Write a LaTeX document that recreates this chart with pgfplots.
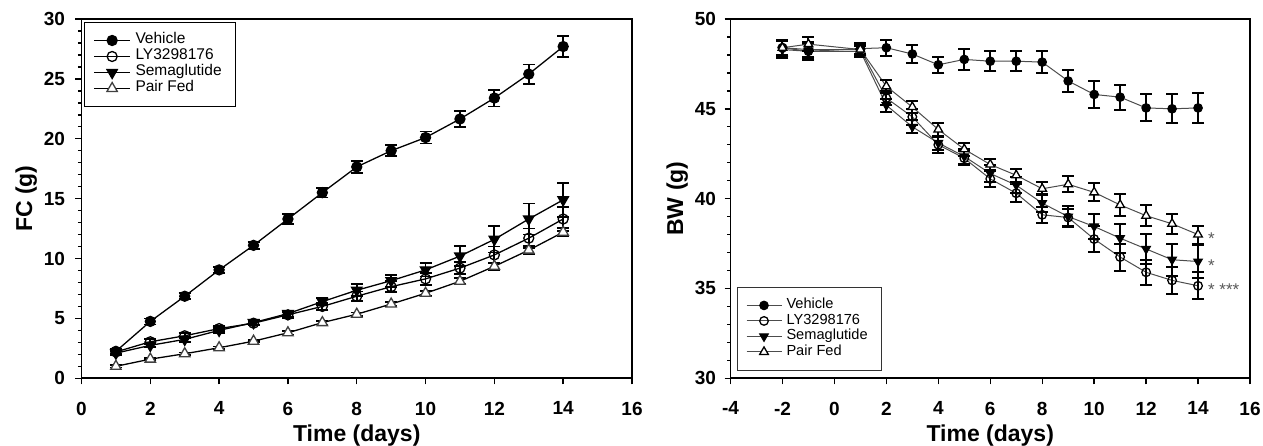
\documentclass[border=0pt]{standalone}
\usepackage{fontspec}
\setmainfont{Liberation Sans}
\usepackage{pgfplots}
\usepackage{pgfplotstable}
\pgfplotsset{compat=1.18}

% ---------- FC data (day, mean, sem) ----------
\pgfplotstableread{
x y e
1 2.25 0.2
2 4.75 0.25
3 6.85 0.25
4 9.05 0.25
5 11.1 0.3
6 13.3 0.4
7 15.5 0.4
8 17.65 0.5
9 19.0 0.45
10 20.1 0.5
11 21.65 0.65
12 23.4 0.7
13 25.4 0.8
14 27.7 0.9
}\fcveh
\pgfplotstableread{
x y e
1 2.2 0.15
2 3.05 0.2
3 3.55 0.2
4 4.15 0.2
5 4.6 0.2
6 5.3 0.25
7 6.0 0.3
8 6.85 0.4
9 7.65 0.45
10 8.3 0.5
11 9.2 0.5
12 10.3 0.7
13 11.7 0.8
14 13.3 1.0
}\fcly
\pgfplotstableread{
x y e
1 2.1 0.15
2 2.75 0.15
3 3.25 0.2
4 4.0 0.2
5 4.65 0.2
6 5.4 0.25
7 6.4 0.3
8 7.35 0.5
9 8.15 0.5
10 9.05 0.55
11 10.2 0.85
12 11.6 1.1
13 13.3 1.3
14 14.9 1.4
}\fcsema
\pgfplotstableread{
x y e
1 1.0 0.1
2 1.6 0.1
3 2.05 0.1
4 2.55 0.1
5 3.1 0.1
6 3.8 0.15
7 4.65 0.15
8 5.35 0.15
9 6.2 0.15
10 7.1 0.2
11 8.1 0.25
12 9.35 0.3
13 10.7 0.35
14 12.2 0.35
}\fcpf

% ---------- BW data ----------
\pgfplotstableread{
x y e
-2 48.4 0.45
-1 48.2 0.4
1 48.35 0.3
2 48.4 0.45
3 48.05 0.5
4 47.45 0.45
5 47.75 0.6
6 47.65 0.55
7 47.65 0.55
8 47.6 0.6
9 46.55 0.6
10 45.8 0.75
11 45.65 0.7
12 45.05 0.75
13 45.0 0.8
14 45.05 0.85
}\bwveh
\pgfplotstableread{
x y e
-2 48.4 0.45
-1 48.3 0.4
1 48.3 0.3
2 45.6 0.4
3 44.55 0.45
4 43.0 0.45
5 42.25 0.4
6 41.1 0.45
7 40.3 0.5
8 39.1 0.45
9 38.95 0.5
10 37.75 0.7
11 36.75 0.75
12 35.9 0.7
13 35.45 0.75
14 35.15 0.75
}\bwly
\pgfplotstableread{
x y e
-2 48.3 0.45
-1 48.2 0.5
1 48.2 0.3
2 45.2 0.35
3 44.0 0.35
4 43.1 0.4
5 42.35 0.4
6 41.4 0.45
7 40.75 0.45
8 39.75 0.5
9 39.0 0.6
10 38.45 0.7
11 37.8 0.8
12 37.2 0.85
13 36.6 0.9
14 36.5 0.9
}\bwsema
\pgfplotstableread{
x y e
-2 48.4 0.4
-1 48.6 0.4
1 48.3 0.3
2 46.25 0.35
3 45.1 0.35
4 43.85 0.35
5 42.75 0.35
6 41.9 0.3
7 41.3 0.35
8 40.55 0.35
9 40.8 0.45
10 40.35 0.5
11 39.65 0.6
12 39.05 0.6
13 38.6 0.55
14 38.0 0.5
}\bwpf

\pgfplotsset{
  common/.style={
    scale only axis,
    axis line style={line width=1.6pt},
    tick align=outside,
    major tick length=6pt,
    minor tick length=3.5pt,
    tick style={black, line width=1.4pt},
    xtick pos=bottom, ytick pos=left,
    minor y tick num=4,
    tick label style={font=\bfseries\fontsize{19}{19}\selectfont},
    xticklabel style={yshift=-14pt},
    /pgf/number format/assume math mode=true,
    label style={font=\bfseries\fontsize{23}{23}\selectfont},
    xlabel style={yshift=-3pt},
    legend cell align=left,
  },
  eb/.style={
    error bars/.cd, y dir=both, y explicit,
    error bar style={line width=#1, black, solid},
    error mark options={rotate=90, mark size=6pt, line width=#1, black},
  },
}

\begin{document}
\begin{tikzpicture}
\useasboundingbox (0,0) rectangle (1263pt,446pt);

% ================= FC =================
\begin{axis}[common,
  at={(81.5pt,67.7pt)}, anchor=south west,
  width=550.5pt, height=359.3pt,
  xmin=0, xmax=16, ymin=0, ymax=30,
  xtick={0,2,...,16}, ytick={0,5,...,30},
  yticklabel style={xshift=-7pt},
  xlabel={Time (days)}, ylabel={FC (g)},
  legend image code/.code={
    \draw[mark repeat=2,mark phase=2,#1] plot coordinates {(0pt,0pt) (18pt,0pt) (36pt,0pt)};
  },
  legend style={at={(axis description cs:0,1)}, anchor=north west,
    xshift=2.5pt, yshift=-3pt, draw=black, line width=1pt,
    font=\fontsize{15.5}{15.5}\selectfont, inner xsep=9pt, inner ysep=10.5pt,
    row sep=1pt,
    nodes={inner ysep=0pt, inner xsep=4.7pt, text height=11pt, text depth=4pt}},
]
\addplot[black, line width=1.3pt, mark=*, mark size=5pt, mark options={fill=black, solid}, eb=1.8pt]
  table[x=x, y=y, y error=e] {\fcveh};
\addlegendentry{Vehicle}
\addplot[black, line width=1.3pt, mark=o, mark size=5pt, mark options={fill=white, solid}, eb=1.8pt]
  table[x=x, y=y, y error=e] {\fcly};
\addlegendentry{LY3298176}
\addplot[black, line width=1.3pt, mark=triangle*, mark size=6pt, mark options={fill=black, solid, rotate=180}, eb=1.8pt]
  table[x=x, y=y, y error=e] {\fcsema};
\addlegendentry{Semaglutide}
\addplot[black, line width=1.3pt, mark=triangle*, mark size=6pt, mark options={fill=white, draw=black!75, solid}, eb=1.8pt]
  table[x=x, y=y, y error=e] {\fcpf};
\addlegendentry{Pair Fed}
\end{axis}

% ================= BW =================
\begin{axis}[common,
  at={(730.5pt,67.7pt)}, anchor=south west,
  width=519.5pt, height=359.3pt,
  xmin=-4, xmax=16, ymin=30, ymax=50,
  xtick={-4,-2,...,16}, ytick={30,35,...,50},
  yticklabel style={xshift=-5pt},
  xlabel={Time (days)}, ylabel={BW (g)},
  clip=false,
  legend image code/.code={
    \draw[mark repeat=2,mark phase=2,#1] plot coordinates {(0pt,0pt) (17.5pt,0pt) (35pt,0pt)};
  },
  legend style={at={(axis description cs:0,0)}, anchor=south west,
    xshift=6pt, yshift=7.6pt, draw=black!80, line width=1pt,
    font=\fontsize{14.6}{14.6}\selectfont, inner xsep=9pt, inner ysep=11pt,
    row sep=1pt,
    nodes={inner ysep=0pt, inner xsep=4.5pt, text height=10.5pt, text depth=4pt}},
]
\addplot[gray!60!black, line width=1pt, mark=*, mark size=4.3pt, mark options={fill=black, draw=black, solid}, eb=2pt]
  table[x=x, y=y, y error=e] {\bwveh};
\addlegendentry{Vehicle}
\addplot[gray!60!black, line width=1pt, mark=o, mark size=4.3pt, mark options={fill=white, draw=black, solid, line width=1.3pt}, eb=2pt]
  table[x=x, y=y, y error=e] {\bwly};
\addlegendentry{LY3298176}
\addplot[gray!60!black, line width=1pt, mark=triangle*, mark size=5pt, mark options={fill=black, draw=black, solid, rotate=180}, eb=2pt]
  table[x=x, y=y, y error=e] {\bwsema};
\addlegendentry{Semaglutide}
\addplot[gray!60!black, line width=1pt, mark=triangle*, mark size=5pt, mark options={fill=white, draw=black, solid, line width=1.3pt}, eb=2pt]
  table[x=x, y=y, y error=e] {\bwpf};
\addlegendentry{Pair Fed}
\node[anchor=base west, inner sep=0pt, font=\fontsize{17}{17}\selectfont, text=gray!70!black, yshift=-10pt] at (axis cs:14.38,38.0) {*};
\node[anchor=base west, inner sep=0pt, font=\fontsize{17}{17}\selectfont, text=gray!70!black, yshift=-10pt] at (axis cs:14.38,36.5) {*};
\node[anchor=base west, inner sep=0pt, font=\fontsize{17}{17}\selectfont, text=gray!70!black, yshift=-10pt] at (axis cs:14.38,35.15) {* ***};
\end{axis}
\end{tikzpicture}
\end{document}
